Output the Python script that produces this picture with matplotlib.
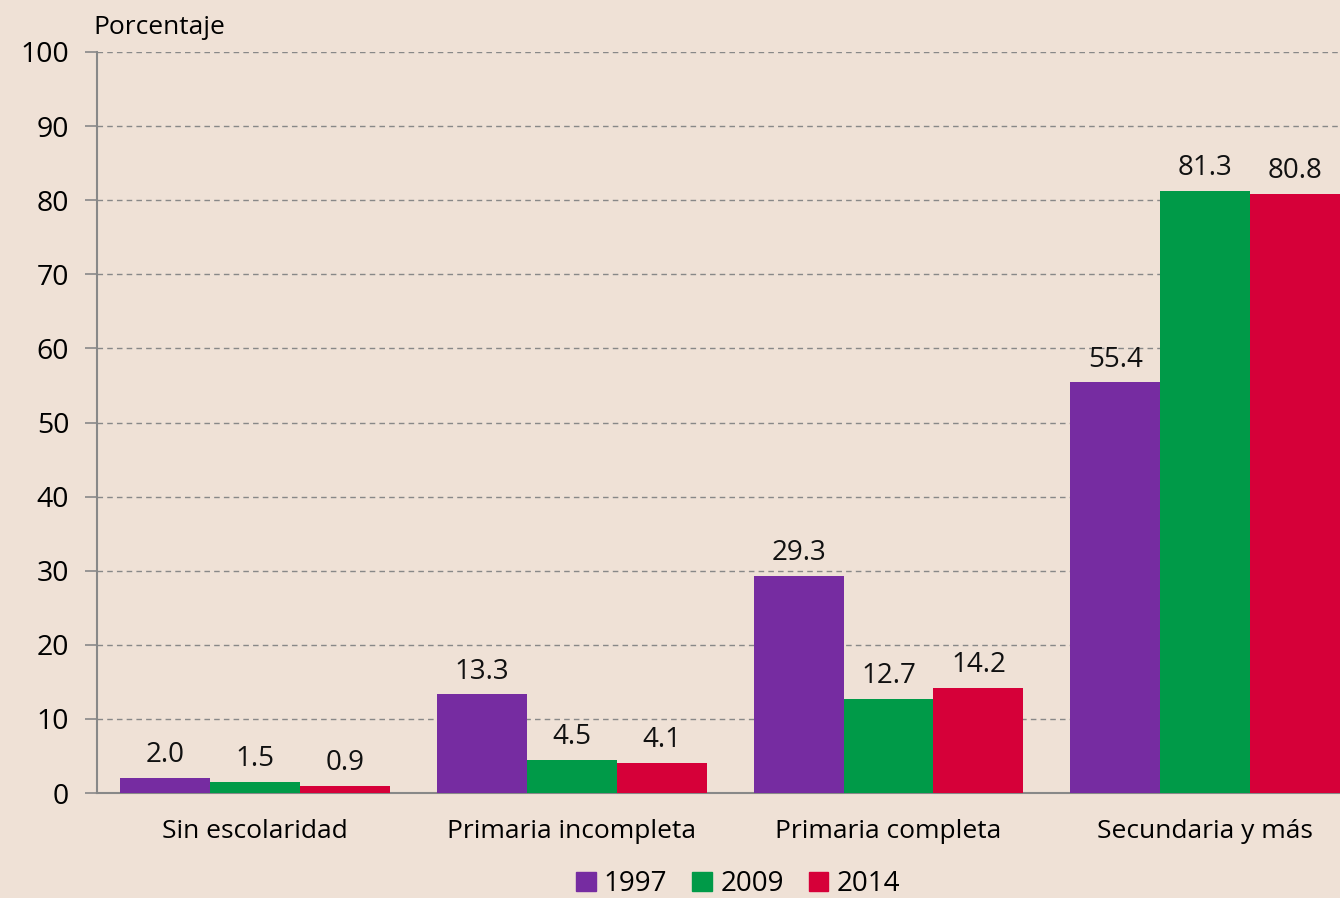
import numpy as np
import matplotlib.pyplot as plt
from matplotlib.patches import Patch

# Datos
categorias = ['Sin escolaridad', 'Primaria incompleta', 'Primaria completa', 'Secundaria y más']
anios = ['1997', '2009', '2014']
v1997 = [2.0, 13.3, 29.3, 55.4]
v2009 = [1.5, 4.5, 12.7, 81.3]
v2014 = [0.9, 4.1, 14.2, 80.8]
colores = ['#762CA1', '#009A48', '#D60039']

plt.rcParams['font.family'] = ['Open Sans', 'DejaVu Sans']

fondo = '#EFE1D6'
fig = plt.figure(figsize=(13.4, 8.98), dpi=100, facecolor=fondo)
ax = fig.add_axes([97 / 1340, 1 - 793 / 898, 1 - 97 / 1340, (793 - 52) / 898])
ax.set_facecolor(fondo)

x = np.arange(len(categorias))
w = 0.284
for i, (vals, c) in enumerate(zip([v1997, v2009, v2014], colores)):
    pos = x + (i - 1) * w
    ax.bar(pos, vals, width=w, color=c, zorder=3)
    for p, v in zip(pos, vals):
        ax.text(p, v + 1.2, f'{v:.1f}', ha='center', va='bottom', fontsize=20, color='#111111')

ax.set_xlim(-0.5, 3 + 1.5 * w)
ax.set_ylim(0, 100)
ax.set_yticks(range(0, 101, 10))
ax.set_xticks(x)
ax.set_xticklabels(categorias, fontsize=19)
ax.tick_params(axis='y', labelsize=20.5, length=9, color='#888888', width=1.2, pad=11)
ax.tick_params(axis='x', length=0, pad=19)
ax.grid(axis='y', linestyle=(0, (4, 3)), color='#888888', linewidth=1, zorder=0)
for s in ['top', 'right']:
    ax.spines[s].set_visible(False)
for s in ['left', 'bottom']:
    ax.spines[s].set_color('#888888')
    ax.spines[s].set_linewidth(1.5)

fig.text(93 / 1340, 1 - 28 / 898, 'Porcentaje', ha='left', va='center', fontsize=19)

handles = [Patch(color=c, label=a) for c, a in zip(colores, anios)]
fig.legend(handles=handles, loc='center', bbox_to_anchor=(738 / 1340, 1 - 884 / 898), ncol=3,
           frameon=False, fontsize=20, handlelength=0.7, handleheight=0.7,
           handletextpad=0.3, columnspacing=0.9)

fig.savefig('out.png', dpi=100, facecolor=fondo)
